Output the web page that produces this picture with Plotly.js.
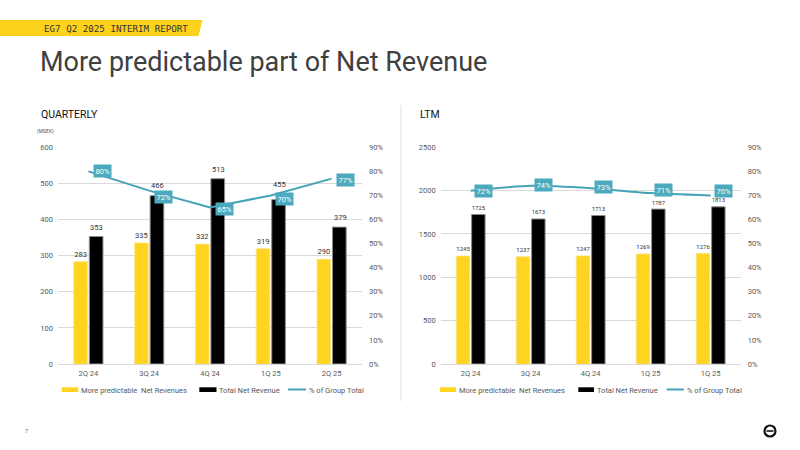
<!DOCTYPE html>
<html>
<head>
<meta charset="utf-8">
<script src="https://cdn.plot.ly/plotly-3.0.1.min.js"></script>
<style>html,body{margin:0;padding:0;background:#fff;}#chart{width:800px;height:450px;}</style>
</head>
<body>
<div id="chart"></div>
<script>
// ---- Data ----
const qCategories = ['2Q 24', '3Q 24', '4Q 24', '1Q 25', '2Q 25'];
const qPredictable = [283, 335, 332, 319, 290];
const qTotal = [353, 466, 513, 455, 379];
const qShare = [0.80, 0.72, 0.65, 0.70, 0.77];

const ltmLabels = ['2Q 24', '3Q 24', '4Q 24', '1Q 25', '1Q 25'];
const ltmIndex = [0, 1, 2, 3, 4];
const ltmPredictable = [1245, 1237, 1247, 1269, 1276];
const ltmTotal = [1725, 1673, 1713, 1787, 1813];
const ltmShare = [0.72, 0.74, 0.73, 0.71, 0.70];

const seriesNames = ['More predictable  Net Revenues', 'Total Net Revenue', '% of Group Total'];
const leftTicks = [0, 100, 200, 300, 400, 500, 600];
const ltmTicks = [0, 500, 1000, 1500, 2000, 2500];

// ---- Styles ----
const W = 800, H = 450;
const px = x => x / W;
const py = y => 1 - y / H;
const YELLOW = '#FFD420';
const BLACK = '#000000';
const TEAL = '#45A3B7';
const TEAL_BOX = '#4BAABD';
const FONT = 'Roboto, "DejaVu Sans", sans-serif';
const tf = () => ({family: FONT, size: 7.5, color: '#595959'});
const barText = () => ({family: FONT, size: 7.5, color: '#333333'});
// label offsets (pixels)
const qLabelShift = [0, -6, -1.5, -3.5, -1];
const ltmLabelShift = [0, 1, 1, 3, 4];
const qTotalLabelLift = [3, 4, 3, 9, 3];

const traces = [
  {type: 'bar', name: seriesNames[0], x: qCategories, y: qPredictable, xaxis: 'x', yaxis: 'y',
   marker: {color: YELLOW, line: {color: '#ffe27a', width: 0.8}}, texttemplate: '%{y}', textposition: 'outside',
   textfont: barText(), cliponaxis: false, showlegend: false},
  {type: 'bar', name: seriesNames[1], x: qCategories, y: qTotal, xaxis: 'x', yaxis: 'y',
   marker: {color: BLACK, line: {color: '#8c8c8c', width: 1}}, showlegend: false},
  {type: 'scatter', mode: 'lines', name: seriesNames[2], x: qCategories, y: qShare, xaxis: 'x', yaxis: 'y2',
   line: {color: TEAL, width: 2}, showlegend: false, cliponaxis: false},

  {type: 'bar', name: seriesNames[0], x: ltmIndex, y: ltmPredictable, xaxis: 'x2', yaxis: 'y3',
   marker: {color: YELLOW, line: {color: '#ffe27a', width: 0.8}}, texttemplate: '%{y}', textposition: 'outside',
   textfont: barText(), cliponaxis: false, showlegend: false},
  {type: 'bar', name: seriesNames[1], x: ltmIndex, y: ltmTotal, xaxis: 'x2', yaxis: 'y3',
   marker: {color: BLACK, line: {color: '#8c8c8c', width: 1}}, texttemplate: '%{y}', textposition: 'outside',
   textfont: barText(), cliponaxis: false, showlegend: false},
  {type: 'scatter', mode: 'lines', name: seriesNames[2], x: ltmIndex, y: ltmShare, xaxis: 'x2', yaxis: 'y4',
   line: {color: TEAL, width: 2, shape: 'spline', smoothing: 0.6}, showlegend: false, cliponaxis: false}
];

// ---- Annotations ----
const annotations = [];
function txt(x, y, text, size, color, opts, family) {
  annotations.push(Object.assign({xref: 'paper', yref: 'paper', x: px(x), y: py(y), text: text,
    showarrow: false, xanchor: 'left', yanchor: 'middle',
    font: {family: family || FONT, size: size, color: color}}, opts || {}));
}
txt(41.5, 28.5, 'EG7 Q2 2025 INTERIM REPORT', 9.2, '#333333', null, '"DejaVu Sans Mono", monospace');
txt(38, 62, 'More predictable part of Net Revenue', 27, '#404040');
txt(39, 115, 'QUARTERLY', 10.5, '#111111');
txt(418, 115, 'LTM', 10.5, '#111111');
txt(35, 131.5, '(MSEK)', 5, '#555555');
txt(23, 431, '7', 5.5, '#666666');

// value labels of the quarterly total bars (as annotations so they can be lifted clear of the % boxes)
qTotal.forEach((v, i) => annotations.push({xref: 'x', yref: 'y', x: qCategories[i], y: v, text: String(v),
  showarrow: false, xanchor: 'center', yanchor: 'bottom', xshift: 8.5, yshift: qTotalLabelLift[i],
  font: barText()}));

qShare.forEach((v, i) => annotations.push({xref: 'x', yref: 'y2', x: qCategories[i], y: v,
  text: Math.round(v * 100) + '%', showarrow: false, xanchor: 'center', yanchor: 'middle', xshift: 14, yshift: qLabelShift[i],
  bgcolor: TEAL_BOX, borderpad: 1.5, font: {family: FONT, size: 7.5, color: '#ffffff'}}));
ltmShare.forEach((v, i) => annotations.push({xref: 'x2', yref: 'y4', x: ltmIndex[i], y: v,
  text: Math.round(v * 100) + '%', showarrow: false, xanchor: 'center', yanchor: 'middle', xshift: 13, yshift: ltmLabelShift[i],
  bgcolor: TEAL_BOX, borderpad: 1.5, font: {family: FONT, size: 7.5, color: '#ffffff'}}));

// ---- Shapes (banner, divider, custom legends, logo) ----
const shapes = [];
shapes.push({type: 'path', xref: 'paper', yref: 'paper', fillcolor: '#FDD21C', line: {width: 0},
  path: `M ${px(0)} ${py(20)} L ${px(202.5)} ${py(20)} L ${px(198.5)} ${py(36)} L ${px(0)} ${py(36)} Z`});
shapes.push({type: 'line', xref: 'paper', yref: 'paper', x0: px(401), x1: px(401), y0: py(105), y1: py(401),
  line: {color: '#ebebeb', width: 1.5}});

function legend(items) {
  items.forEach(it => {
    if (it.kind === 'bar') {
      shapes.push({type: 'rect', xref: 'paper', yref: 'paper', x0: px(it.x0), x1: px(it.x1), y0: py(387.3), y1: py(392),
        fillcolor: it.color, line: {width: 0}});
    } else {
      shapes.push({type: 'line', xref: 'paper', yref: 'paper', x0: px(it.x0), x1: px(it.x1), y0: py(389.5), y1: py(389.5),
        line: {color: it.color, width: 2}});
    }
    txt(it.x1 + 0.5, 390, it.label, 7.5, '#595959');
  });
}
legend([
  {kind: 'bar', x0: 61.7, x1: 78.3, color: YELLOW, label: seriesNames[0]},
  {kind: 'bar', x0: 199.3, x1: 216.5, color: BLACK, label: seriesNames[1]},
  {kind: 'line', x0: 288, x1: 306, color: TEAL, label: seriesNames[2]}
]);
legend([
  {kind: 'bar', x0: 440, x1: 456, color: YELLOW, label: seriesNames[0]},
  {kind: 'bar', x0: 578.3, x1: 594, color: BLACK, label: seriesNames[1]},
  {kind: 'line', x0: 666.7, x1: 684, color: TEAL, label: seriesNames[2]}
]);

// logo
shapes.push({type: 'circle', xref: 'paper', yref: 'paper', x0: px(764.5), x1: px(775.5), y0: py(436.5), y1: py(425.5),
  line: {color: '#111', width: 2.2}});
shapes.push({type: 'line', xref: 'paper', yref: 'paper', x0: px(766.5), x1: px(773.5), y0: py(431), y1: py(431),
  line: {color: '#111', width: 1.6}});

const baseY = () => ({tickfont: tf(), gridcolor: '#d9d9d9', gridwidth: 1, zeroline: false, showline: false, ticks: '',
  fixedrange: true});
const pctAxis = (over, anchor) => ({overlaying: over, side: 'right', anchor: anchor, range: [0, 0.9], dtick: 0.1,
  tickformat: '.0%', showgrid: false, zeroline: false, showline: false, tickfont: tf(), ticks: '', ticklabelstandoff: 6,
  color: '#595959'});
const layout = {
  width: W, height: H, margin: {l: 0, r: 0, t: 0, b: 0},
  paper_bgcolor: '#ffffff', plot_bgcolor: 'rgba(0,0,0,0)',
  font: {family: FONT, color: '#595959'},
  showlegend: false,
  barmode: 'group', bargap: 0.49, bargroupgap: 0.12,
  xaxis: {domain: [px(58), px(362)], anchor: 'y', type: 'category', tickfont: tf(), showgrid: false,
    showline: true, linecolor: '#d9d9d9', linewidth: 1, ticks: '', ticklabelstandoff: 2},
  yaxis: Object.assign(baseY(), {domain: [py(364), py(147.3)], range: [0, 600], tickvals: leftTicks, anchor: 'x',
    ticklabelstandoff: 4}),
  yaxis2: pctAxis('y', 'x'),
  xaxis2: {domain: [px(440.7), px(740.7)], anchor: 'y3', range: [-0.5, 4.5], tickvals: ltmIndex, ticktext: ltmLabels,
    tickfont: tf(), showgrid: false, showline: true, linecolor: '#d9d9d9', linewidth: 1, ticks: '', zeroline: false,
    ticklabelstandoff: 2},
  yaxis3: Object.assign(baseY(), {domain: [py(364), py(147.3)], range: [0, 2500], tickvals: ltmTicks, anchor: 'x2',
    ticklabelstandoff: 4}),
  yaxis4: pctAxis('y3', 'x2'),
  annotations: annotations,
  shapes: shapes
};

Plotly.newPlot('chart', traces, layout, {staticPlot: true, displayModeBar: false});
</script>
</body>
</html>
